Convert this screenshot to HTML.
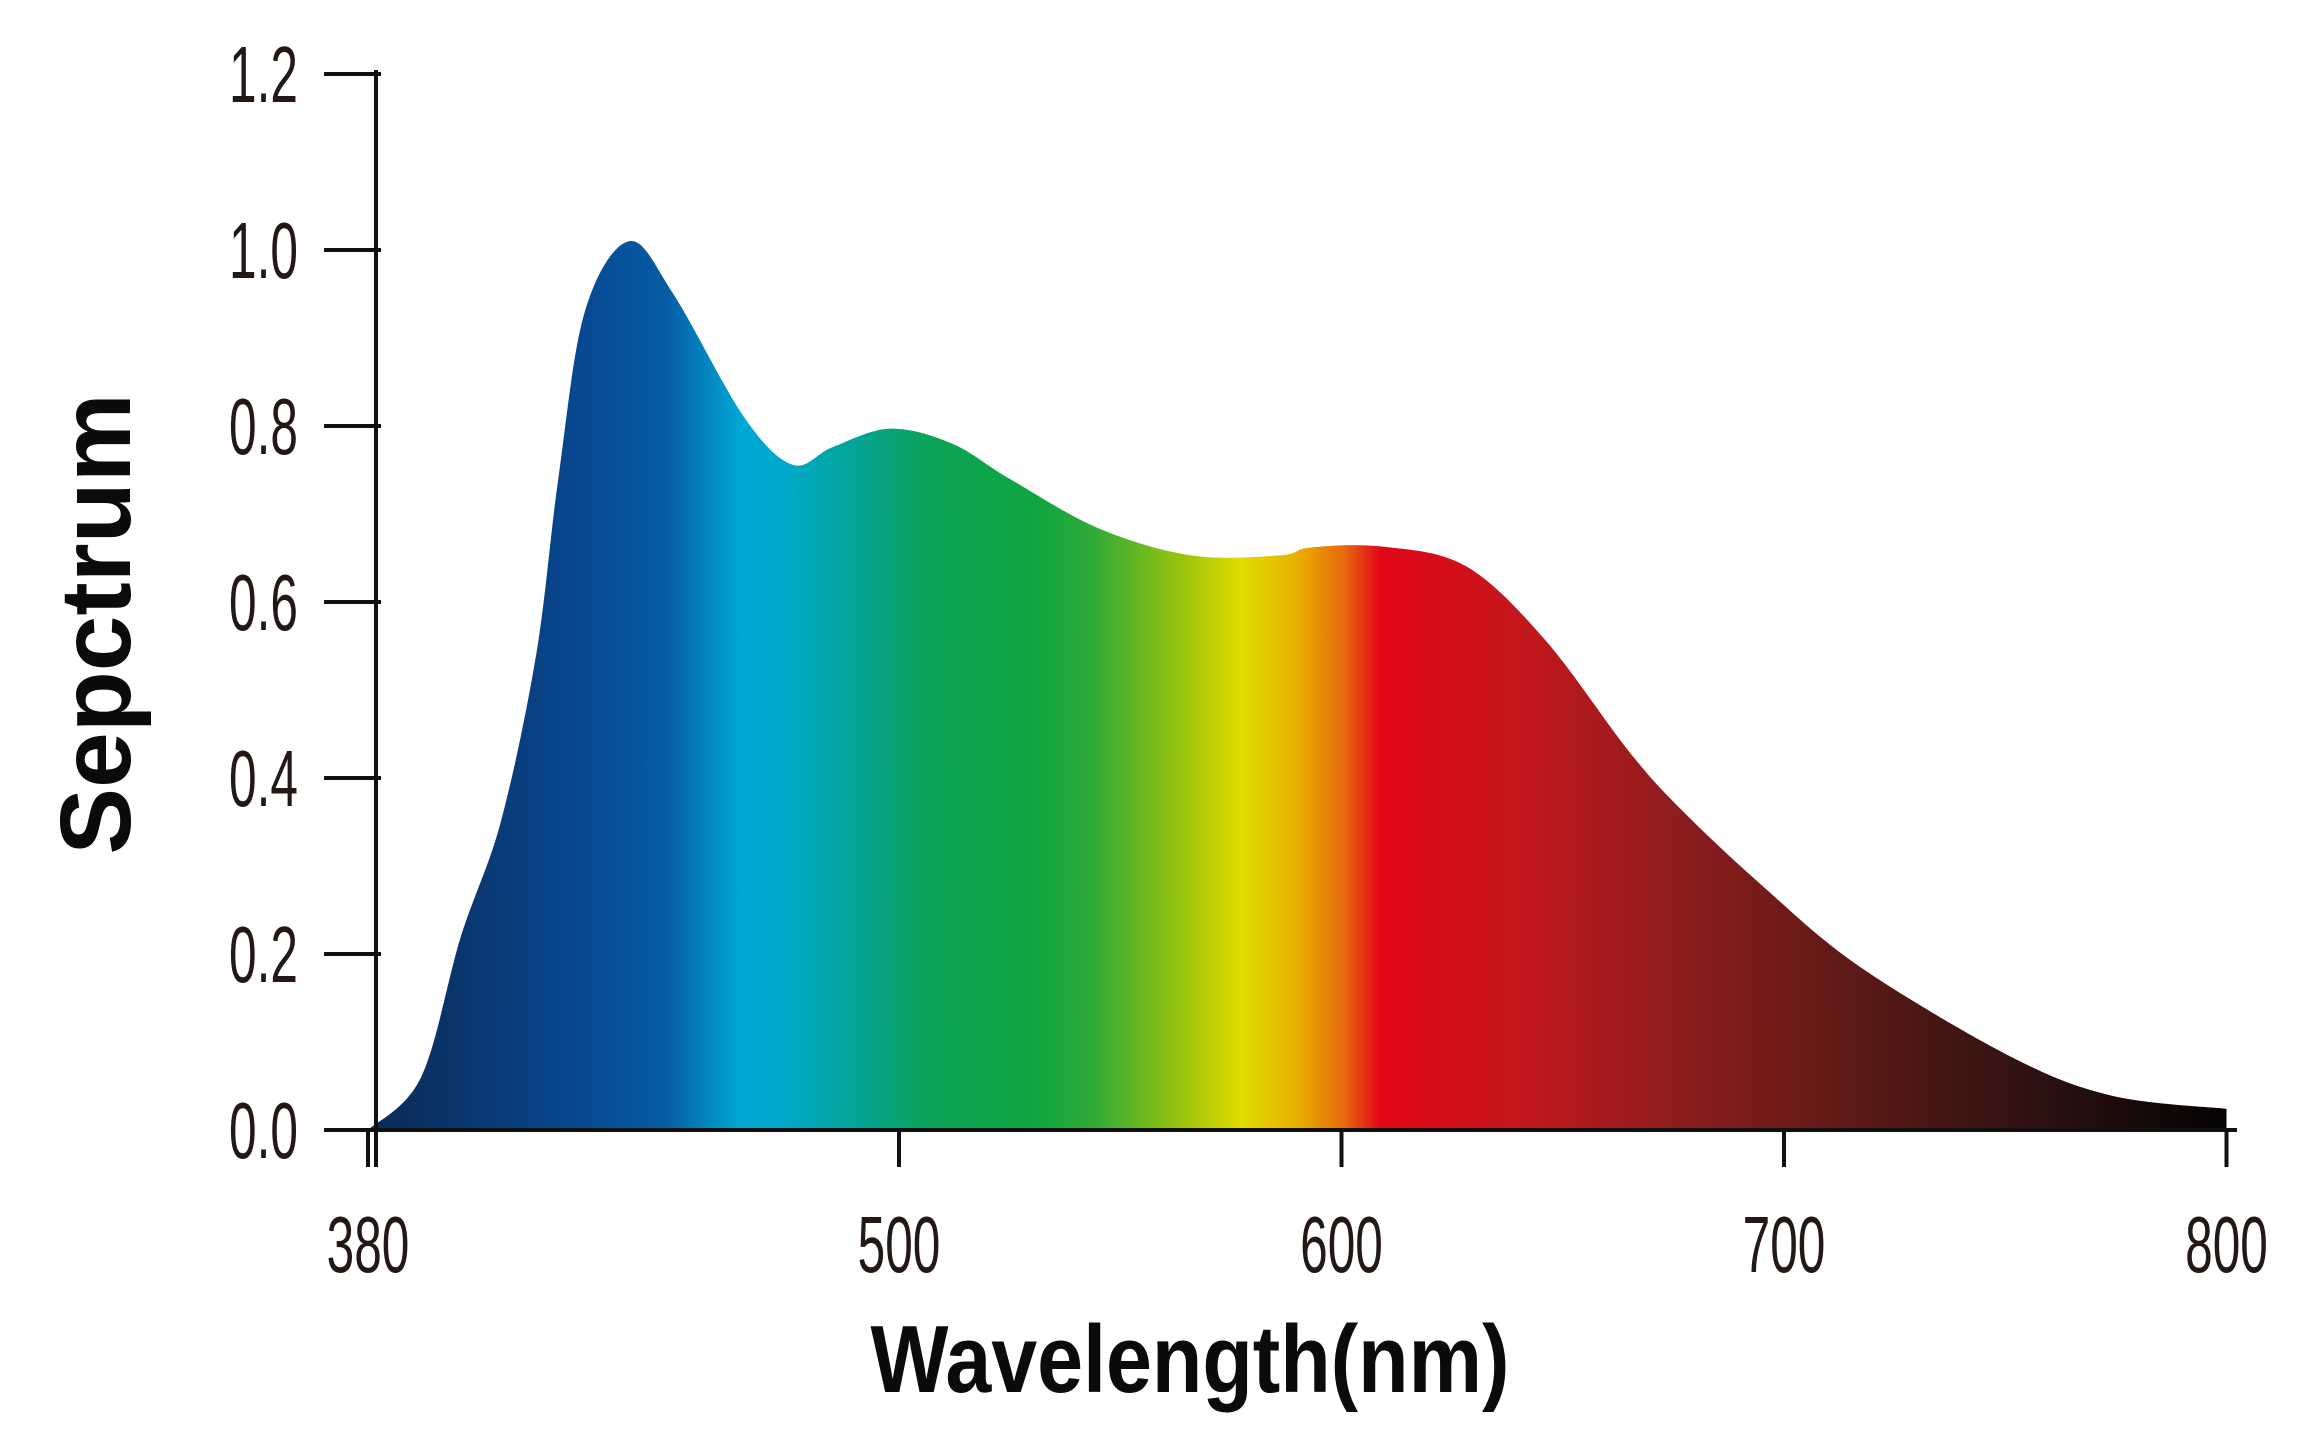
<!DOCTYPE html>
<html><head><meta charset="utf-8"><style>
html,body{margin:0;padding:0;background:#fff;}
svg{display:block;}
</style></head><body>
<svg id="chart" width="2319" height="1440" viewBox="0 0 2319 1440" xmlns="http://www.w3.org/2000/svg">
<defs>
<linearGradient id="spec" gradientUnits="userSpaceOnUse" x1="368" y1="0" x2="2226" y2="0">
<stop offset="0" stop-color="#0b2a52"/>
<stop offset="0.07" stop-color="#0a3b78"/>
<stop offset="0.12" stop-color="#074a94"/>
<stop offset="0.16" stop-color="#065ca4"/>
<stop offset="0.2" stop-color="#00a6d6"/>
<stop offset="0.225" stop-color="#00a9c8"/>
<stop offset="0.26" stop-color="#03a59a"/>
<stop offset="0.3" stop-color="#0aa258"/>
<stop offset="0.36" stop-color="#11a540"/>
<stop offset="0.39" stop-color="#2eaa38"/>
<stop offset="0.44" stop-color="#9ec50a"/>
<stop offset="0.47" stop-color="#e2dc00"/>
<stop offset="0.5" stop-color="#e8b000"/>
<stop offset="0.525" stop-color="#e66a0e"/>
<stop offset="0.545" stop-color="#e30618"/>
<stop offset="0.62" stop-color="#c4171c"/>
<stop offset="0.7" stop-color="#901d1e"/>
<stop offset="0.8" stop-color="#5c1a16"/>
<stop offset="0.9" stop-color="#2c1210"/>
<stop offset="1" stop-color="#050203"/>
</linearGradient>
</defs>
<g id="plot"></g>
<g id="axes"></g>
<text transform="translate(130,624) rotate(-90)" text-anchor="middle" font-family="Liberation Sans, sans-serif" font-weight="bold" font-size="100" fill="#0d0a0a">Sepctrum</text>
<text x="1190" y="1392" text-anchor="middle" font-family="Liberation Sans, sans-serif" font-weight="bold" font-size="96" fill="#0d0a0a" transform="translate(1190,0) scale(0.86,1) translate(-1190,0)">Wavelength(nm)</text>
</svg>
<script>
const wavelengths=[380,392,401,410,418,423,429,439,449,465,476,485,498,512,525,545,566,586,593,609,628,646,665,677,695,717,751,774,800];
const intensities=[0,0.06,0.22,0.35,0.54,0.74,0.93,1.01,0.95,0.81,0.756,0.776,0.797,0.78,0.74,0.684,0.653,0.653,0.662,0.663,0.641,0.557,0.43,0.363,0.278,0.186,0.084,0.039,0.024];
const yTicks=[0,0.2,0.4,0.6,0.8,1.0,1.2];
const yTickLabels=["0.0","0.2","0.4","0.6","0.8","1.0","1.2"];
const xTicks=[380,500,600,700,800];
const xTickLabels=["380","500","600","700","800"];

const NS="http://www.w3.org/2000/svg";
function xScale(l){return 899+(l-500)*4.425;}
function yScale(v){return 1130-v*880;}
const plot=document.getElementById('plot');
const axes=document.getElementById('axes');

// smooth path via Catmull-Rom
const pts=wavelengths.map((w,i)=>[xScale(w),yScale(intensities[i])]);
let d="M"+pts[0][0]+","+yScale(0)+" L"+pts[0][0]+","+pts[0][1];
for(let i=0;i<pts.length-1;i++){
  const p0=pts[i-1]||pts[i],p1=pts[i],p2=pts[i+1],p3=pts[i+2]||pts[i+1];
  const c1=[p1[0]+(p2[0]-p0[0])/6,p1[1]+(p2[1]-p0[1])/6];
  const c2=[p2[0]-(p3[0]-p1[0])/6,p2[1]-(p3[1]-p1[1])/6];
  d+=" C"+c1[0]+","+c1[1]+" "+c2[0]+","+c2[1]+" "+p2[0]+","+p2[1];
}
d+=" L"+pts[pts.length-1][0]+","+yScale(0)+" Z";
const area=document.createElementNS(NS,'path');
area.setAttribute('d',d);
area.setAttribute('fill','url(#spec)');


plot.appendChild(area);

function line(x1,y1,x2,y2,name){
  const l=document.createElementNS(NS,'line');
  l.setAttribute('x1',x1);l.setAttribute('y1',y1);l.setAttribute('x2',x2);l.setAttribute('y2',y2);
  l.setAttribute('stroke','#111');l.setAttribute('stroke-width','4');
  
  
  axes.appendChild(l);
}
line(376,yScale(1.2)-4,376,1167,'y-axis-line');
line(324,1130,2237,1130,'x-axis-line');
function txt(x,y,s,anchor,name){
  const t=document.createElementNS(NS,'text');
  t.setAttribute('x',0);t.setAttribute('y',0);
  t.setAttribute('text-anchor',anchor);
  t.setAttribute('font-family','Liberation Sans, sans-serif');
  t.setAttribute('font-size','80');
  t.setAttribute('fill','#231815');
  t.setAttribute('transform','translate('+x+','+y+') scale(0.62,1)');
  t.textContent=s;
  
  
  axes.appendChild(t);
}
yTicks.forEach((v,i)=>{
  const y=yScale(v);
  line(324,y,381,y,'y-tick');
  txt(298,y+28,yTickLabels[i],'end','y-tick-label');
});
xTicks.forEach((v,i)=>{
  const x=xScale(v);
  line(x,1130,x,1167,'x-tick');
  txt(x,1272,xTickLabels[i],'middle','x-tick-label');
});
</script>
</body></html>
